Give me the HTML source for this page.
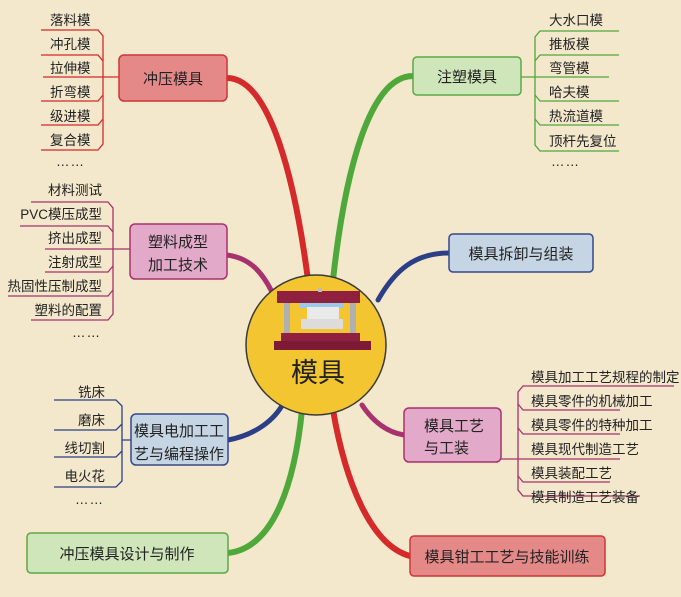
<!DOCTYPE html>
<html><head><meta charset="utf-8"><style>
html,body{margin:0;padding:0}
body{width:681px;height:592px;overflow:hidden;background:#f3e7cc;font-family:"Liberation Sans","Noto Sans CJK SC",sans-serif}
svg text{font-family:"Liberation Sans","Noto Sans CJK SC",sans-serif;fill:#222}
</style></head><body>
<svg width="681" height="592" viewBox="0 0 681 592" xmlns="http://www.w3.org/2000/svg">
<rect width="681" height="592" fill="#f3e7cc"/>
<g fill="none" stroke-linecap="round">
<path d="M227 78 C270 78 295 180 308 280" stroke="#d42a2a" stroke-width="6"/>
<path d="M413 76 C370 76 345 170 333 280" stroke="#4ea83a" stroke-width="6"/>
<path d="M449 253 C415 253 395 270 378 300" stroke="#2c3f86" stroke-width="5"/>
<path d="M227 255 C250 258 262 272 272 292" stroke="#a8326e" stroke-width="5"/>
<path d="M228 440 C255 435 275 420 284 402" stroke="#2c3f86" stroke-width="5"/>
<path d="M404 435 C385 432 372 420 362 405" stroke="#a8326e" stroke-width="5"/>
<path d="M228 553 C275 548 295 480 302 410" stroke="#4ea83a" stroke-width="6"/>
<path d="M410 556 C370 545 345 480 333 410" stroke="#d42a2a" stroke-width="6"/>
</g>
<g fill="none" stroke-width="1.3">
<g stroke="#d42a2a">
<path d="M41 30 H98 L103 36 V144 L98 150 H41"/>
<path d="M41 55 H98 L103 61 M41 101 H98 L103 95 M41 125 H98 L103 119 M43 77 H119"/>
</g>
<g stroke="#4ea83a">
<path d="M619 31 H540 L535 37 V145 L540 151 H619"/>
<path d="M619 55 H540 L535 61 M619 101 H540 L535 95 M619 125 H540 L535 119 M609 77 H521"/>
</g>
<g stroke="#a8326e">
<path d="M31 202 H108 L113 208 V314 L108 320 H31"/>
<path d="M20 226 H108 L113 232 M45 249 H130 M45 272 H108 L113 266 M8 296 H108 L113 290"/>
<path d="M674 386 H523 L518 392 V490 L523 496 H640"/>
<path d="M620 410 H523 L518 404 M620 434 H523 L518 428 M620 459 H501 M610 482 H523 L518 476"/>
</g>
<g stroke="#2c3f86">
<path d="M54 400 H116 L122 406 V481 L116 487 H54"/>
<path d="M54 430 H116 L122 424 M54 457 H116 L122 451 M122 440 H131"/>
</g>
</g>
<g stroke-width="1.5">
<rect x="119" y="55" width="108" height="46" rx="5" fill="#e48988" stroke="#d03535"/>
<rect x="413" y="57" width="108" height="38" rx="4" fill="#cfe6ba" stroke="#5aa845"/>
<rect x="449" y="234" width="144" height="38" rx="4" fill="#c6d5e3" stroke="#34498a"/>
<rect x="130" y="224" width="97" height="55" rx="5" fill="#e2a9c8" stroke="#a8326e"/>
<rect x="131" y="414" width="97" height="51" rx="5" fill="#c6d5e3" stroke="#34498a"/>
<rect x="404" y="408" width="97" height="54" rx="5" fill="#e2a9c8" stroke="#a8326e"/>
<rect x="27" y="533" width="201" height="40" rx="4" fill="#cfe6ba" stroke="#5aa845"/>
<rect x="410" y="536" width="195" height="40" rx="4" fill="#e48988" stroke="#d03535"/>
</g>
<g font-size="15" text-anchor="middle">
<text x="173" y="84">冲压模具</text>
<text x="467" y="82">注塑模具</text>
<text x="521" y="259">模具拆卸与组装</text>
<text x="178" y="247">塑料成型</text>
<text x="178" y="270">加工技术</text>
<text x="179" y="436">模具电加工工</text>
<text x="179" y="459">艺与编程操作</text>
<text x="424" y="431" text-anchor="start">模具工艺</text>
<text x="424" y="453" text-anchor="start">与工装</text>
<text x="127" y="559">冲压模具设计与制作</text>
<text x="507" y="562">模具钳工工艺与技能训练</text>
</g>
<g font-size="13.5">
<g text-anchor="start">
<text x="50" y="25">落料模</text><text x="50" y="49">冲孔模</text><text x="50" y="73">拉伸模</text>
<text x="50" y="97">折弯模</text><text x="50" y="121">级进模</text><text x="50" y="145">复合模</text>
<text x="56" y="166" letter-spacing="1">……</text>
<text x="549" y="25">大水口模</text><text x="549" y="49">推板模</text><text x="549" y="73">弯管模</text>
<text x="549" y="97">哈夫模</text><text x="549" y="121">热流道模</text><text x="549" y="146">顶杆先复位</text>
<text x="551" y="166" letter-spacing="1">……</text>
<text x="531" y="382">模具加工工艺规程的制定</text><text x="531" y="406">模具零件的机械加工</text>
<text x="531" y="430">模具零件的特种加工</text><text x="531" y="454">模具现代制造工艺</text>
<text x="531" y="478">模具装配工艺</text><text x="531" y="502">模具制造工艺装备</text>
</g>
<g text-anchor="end">
<text x="102" y="195">材料测试</text><text x="102" y="219">PVC模压成型</text><text x="102" y="243">挤出成型</text>
<text x="102" y="267">注射成型</text><text x="102" y="291">热固性压制成型</text><text x="102" y="315">塑料的配置</text>
<text x="101" y="337" letter-spacing="1">……</text>
<text x="105" y="397">铣床</text><text x="105" y="425">磨床</text><text x="105" y="453">线切割</text>
<text x="105" y="481">电火花</text><text x="104" y="504" letter-spacing="1">……</text>
</g>
</g>
<circle cx="316" cy="345" r="70" fill="#f2c531" stroke="#3a3a3a" stroke-width="1.5"/>
<g>
<rect x="277" y="291" width="83" height="12" fill="#8f2040"/>
<rect x="318" y="288" width="4" height="4" fill="#bbb"/>
<rect x="300" y="303" width="44" height="5" fill="#9cc9e8"/>
<rect x="284" y="303" width="6" height="30" fill="#b0b0b0"/>
<rect x="350" y="303" width="6" height="30" fill="#b0b0b0"/>
<rect x="307" y="307" width="32" height="12" fill="#eaeaea"/>
<rect x="301" y="319" width="42" height="10" fill="#dcdcdc"/>
<rect x="281" y="333" width="79" height="8" fill="#8f2040"/>
<rect x="274" y="341" width="97" height="9" fill="#7d1a36"/>
</g>
<text x="318" y="382" font-size="27" text-anchor="middle">模具</text>
</svg>
</body></html>
